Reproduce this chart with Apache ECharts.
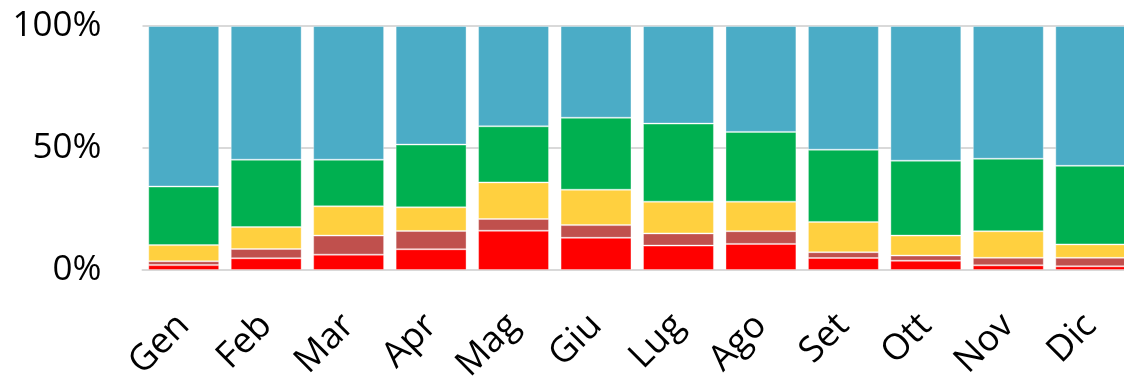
<!DOCTYPE html>
<html>
<head>
<meta charset="utf-8">
<title>Ripartizione mensile</title>
<script src="https://cdn.jsdelivr.net/npm/echarts@6/dist/echarts.min.js"></script>
<style>
  html, body { margin: 0; padding: 0; background: #ffffff; overflow: hidden; }
  #chart { width: 1132px; height: 376px; }
</style>
</head>
<body>
<div id="chart"></div>
<script>
// Month labels
const months = ['Gen', 'Feb', 'Mar', 'Apr', 'Mag', 'Giu', 'Lug', 'Ago', 'Set', 'Ott', 'Nov', 'Dic'];

// Share of each band per month (percent, stacked bottom to top)
const redShare     = [2.0, 4.8, 6.3, 8.5, 16.1, 13.2, 10.0, 10.7, 4.9, 3.8, 1.9, 1.5];
const darkRedShare = [1.6, 3.8, 7.8, 7.5, 4.8, 5.2, 5.0, 5.2, 2.4, 2.1, 3.1, 3.5];
const yellowShare  = [6.6, 9.0, 12.0, 9.7, 15.0, 14.5, 13.0, 12.1, 12.4, 8.2, 10.9, 5.5];
const greenShare   = [24.0, 27.6, 19.1, 25.7, 23.0, 29.5, 32.0, 28.6, 29.6, 30.7, 29.7, 32.2];
const blueShare    = [65.8, 54.8, 54.8, 48.6, 41.1, 37.6, 40.0, 43.4, 50.7, 55.2, 54.4, 57.3];

// Value axis ticks
const yTicks = [0, 50, 100];

const bands = [
  { name: 'Rosso', data: redShare, color: '#FF0000' },
  { name: 'Rosso scuro', data: darkRedShare, color: '#C0504D' },
  { name: 'Giallo', data: yellowShare, color: '#FFD03F' },
  { name: 'Verde', data: greenShare, color: '#00B050' },
  { name: 'Azzurro', data: blueShare, color: '#4BACC6' }
];

const font = '"Open Sans", "Noto Sans", sans-serif';

// The last column runs slightly past the right edge of the visible area
const chart = echarts.init(document.getElementById('chart'), null, { renderer: 'canvas' });

chart.setOption({
  animation: false,
  backgroundColor: '#ffffff',
  grid: {
    left: 142.5, right: 0, top: 26, bottom: 106,
    containLabel: false,
    outerBoundsMode: 'none'
  },
  xAxis: {
    type: 'category',
    data: months,
    axisTick: { show: false },
    axisLine: { show: true, lineStyle: { color: '#D9D9D9', width: 2 } },
    axisLabel: {
      rotate: 45,
      margin: 50,
      color: '#000000',
      fontFamily: font,
      fontSize: 36,
      interval: 0
    }
  },
  yAxis: {
    type: 'value',
    min: yTicks[0],
    max: yTicks[yTicks.length - 1],
    interval: yTicks[1] - yTicks[0],
    axisLine: { show: false },
    axisTick: { show: false },
    splitLine: { show: true, lineStyle: { color: '#D9D9D9', width: 2 } },
    axisLabel: {
      margin: 41,
      color: '#000000',
      fontFamily: font,
      fontSize: 35,
      formatter: '{value}%'
    }
  },
  series: bands.map(b => ({
    name: b.name,
    type: 'bar',
    stack: 'totale',
    data: b.data,
    barCategoryGap: '14%',
    itemStyle: {
      color: b.color,
      borderColor: 'rgba(255,255,255,0.35)',
      borderWidth: 1
    }
  }))
});
</script>
</body>
</html>
